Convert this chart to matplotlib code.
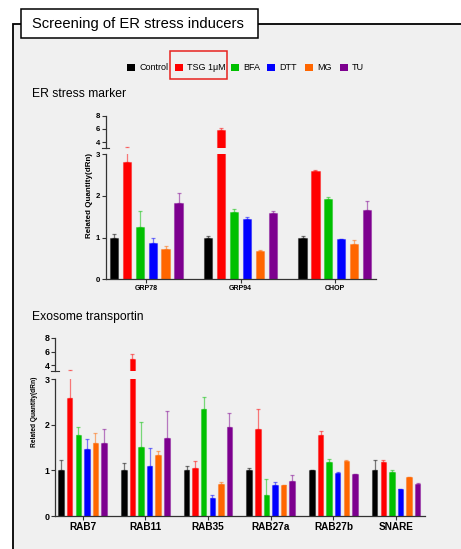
import matplotlib
matplotlib.use("Agg")
import matplotlib.pyplot as plt
from matplotlib.patches import Rectangle
from matplotlib.colors import to_rgba
import numpy as np

plt.rcParams["font.family"] = ["Liberation Sans", "DejaVu Sans"]

treatments = ["Control", "TSG 1μM", "BFA", "DTT", "MG", "TU"]
colors = ["#000000", "#ff0000", "#00c000", "#0000ff", "#ff6600", "#7d008f"]

er_genes = ["GRP78", "GRP94", "CHOP"]
# rows = treatment, cols = gene
er_means = [
    [1.00, 1.00, 1.00],
    [2.81, 5.85, 2.60],
    [1.26, 1.62, 1.93],
    [0.86, 1.44, 0.97],
    [0.73, 0.68, 0.85],
    [1.82, 1.58, 1.67],
]
er_errs = [
    [0.08, 0.03, 0.03],
    [0.45, 0.30, 0.03],
    [0.39, 0.06, 0.04],
    [0.14, 0.05, 0.00],
    [0.07, 0.02, 0.09],
    [0.24, 0.07, 0.20],
]

exo_genes = ["RAB7", "RAB11", "RAB35", "RAB27a", "RAB27b", "SNARE"]
exo_means = [
    [1.00, 1.00, 1.00, 1.00, 1.00, 1.00],
    [2.58, 4.90, 1.06, 1.90, 1.77, 1.18],
    [1.77, 1.51, 2.34, 0.45, 1.18, 0.96],
    [1.46, 1.10, 0.39, 0.68, 0.94, 0.59],
    [1.60, 1.33, 0.71, 0.67, 1.21, 0.85],
    [1.60, 1.71, 1.96, 0.76, 0.92, 0.70],
]
exo_errs = [
    [0.23, 0.17, 0.10, 0.05, 0.01, 0.23],
    [0.80, 0.80, 0.15, 0.45, 0.10, 0.04],
    [0.18, 0.56, 0.27, 0.36, 0.06, 0.04],
    [0.24, 0.39, 0.06, 0.07, 0.03, 0.01],
    [0.23, 0.09, 0.04, 0.00, 0.01, 0.01],
    [0.31, 0.59, 0.29, 0.13, 0.01, 0.02],
]

W, H = 461, 549
BG = "#f0f0f0"
SPINE = "#333333"


def px_rect(x0, y0, x1, y1):
    # pixel box (top-left origin) -> figure fraction rect
    return [x0 / W, 1 - y1 / H, (x1 - x0) / W, (y1 - y0) / H]


def draw_panel(fig, x0, x1, y_low_top, y_low_bot, y_up_top, y_up_bot,
               genes, means, errs, xlim, up_bottom, tick_fs, xlab_fs,
               ylab_fs, ylab_x, ylab_y):
    ax_lo = fig.add_axes(px_rect(x0, y_low_top, x1, y_low_bot), zorder=3)
    ax_up = fig.add_axes(px_rect(x0, y_up_top, x1, y_up_bot), sharex=ax_lo, zorder=3)
    x = np.arange(len(genes))
    step, width = 0.137, 0.088
    for ax in (ax_lo, ax_up):
        ax.set_facecolor("none")
        for i, (m, e) in enumerate(zip(means, errs)):
            pos = x + (i - 2.5) * step
            ax.bar(pos, m, width=width, color=colors[i],
                   edgecolor=to_rgba(colors[i], 0.35), linewidth=0.8, zorder=2)
            ax.errorbar(pos, m, yerr=[np.zeros(len(m)), e], fmt="none",
                        ecolor=colors[i], alpha=0.5, elinewidth=0.9,
                        capsize=1.5, capthick=0.9, zorder=1)
    ax_lo.set_ylim(0, 3)
    ax_up.set_ylim(up_bottom, 8)
    ax_lo.set_xlim(*xlim)
    ax_lo.set_yticks([0, 1, 2, 3])
    ax_up.set_yticks([4, 6, 8])
    ax_lo.set_xticks(x)
    ax_lo.set_xticklabels(genes, fontsize=xlab_fs, fontweight="bold")
    for s in ("top", "right"):
        ax_lo.spines[s].set_visible(False)
    for s in ("top", "right", "bottom"):
        ax_up.spines[s].set_visible(False)
    for ax in (ax_lo, ax_up):
        ax.spines["left"].set_color(SPINE)
        ax.spines["left"].set_linewidth(0.9)
        ax.tick_params(axis="y", length=3, width=0.8, color=SPINE, pad=1,
                       labelsize=tick_fs)
        for lab in ax.get_yticklabels():
            lab.set_fontweight("bold")
    ax_lo.spines["bottom"].set_color(SPINE)
    ax_lo.spines["bottom"].set_linewidth(0.9)
    ax_lo.tick_params(axis="x", length=3, width=0.8, color=SPINE, pad=1)
    ax_up.tick_params(axis="x", bottom=False, labelbottom=False)
    # axis break mark
    ax_up.plot([-0.012, 0.012], [0, 0], transform=ax_up.transAxes, color=SPINE,
               lw=0.8, clip_on=False)
    fig.text(ylab_x / W, 1 - ylab_y / H, "Related Quantity(dRn)",
             rotation=90, ha="center", va="center", fontsize=ylab_fs, fontweight="bold")
    return ax_lo, ax_up


fig = plt.figure(figsize=(W / 100, H / 100), dpi=100, facecolor="white")

# panel background and frame (open at right and bottom edges)
fig.patches.append(Rectangle((13 / W, -0.05), 1.1, 1.05 - 24 / H, transform=fig.transFigure,
                             facecolor=BG, edgecolor="black", linewidth=1.3, zorder=-2))
fig.patches.append(Rectangle((21 / W, 1 - 38 / H), 237 / W, 29 / H, transform=fig.transFigure,
                             facecolor="white", edgecolor="black", linewidth=1.1, zorder=-1))
fig.text(32 / W, 1 - 24 / H, "Screening of ER stress inducers", fontsize=10.6,
         ha="left", va="center")

# legend
leg_sq_x = [127, 175, 231, 267, 305, 340]
for i, name in enumerate(treatments):
    fig.patches.append(Rectangle((leg_sq_x[i] / W, 1 - 70.5 / H), 7.5 / W, 6.5 / H,
                                 transform=fig.transFigure, facecolor=colors[i],
                                 edgecolor="none"))
    fig.text((leg_sq_x[i] + 12) / W, 1 - 67.5 / H, name, fontsize=6.5, ha="left",
             va="center")
fig.patches.append(Rectangle((170 / W, 1 - 79 / H), 57 / W, 28 / H, transform=fig.transFigure,
                             facecolor="none", edgecolor="#e8231f", linewidth=1.1))

fig.text(32 / W, 1 - 94 / H, "ER stress marker", fontsize=8.7, ha="left", va="center")
fig.text(32 / W, 1 - 317 / H, "Exosome transportin", fontsize=8.7, ha="left", va="center")

draw_panel(fig, 105.7, 376, 154.3, 279.3, 115.7, 148, er_genes, er_means, er_errs,
           (-0.43, 2.437), 3.1, 5.6, 5.0, 5.8, 89, 196)
draw_panel(fig, 55, 425, 379.3, 516, 337.7, 371.2, exo_genes, exo_means, exo_errs,
           (-0.44, 5.46), 3.15, 6.4, 7.2, 4.8, 35, 412)

fig.savefig("out.png", dpi=100, facecolor="white")
